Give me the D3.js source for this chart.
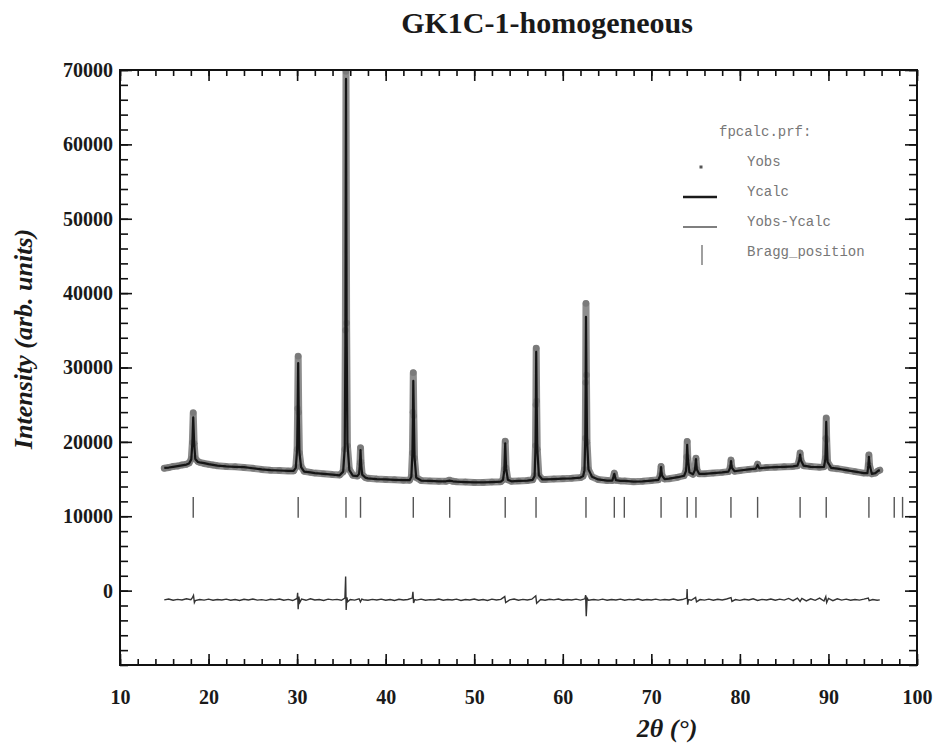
<!DOCTYPE html>
<html><head><meta charset="utf-8">
<script src="https://cdn.jsdelivr.net/npm/d3@7"></script>
<style>body{margin:0;background:#fff}svg{display:block}</style>
</head><body>
<svg id="chart" width="941" height="746"></svg>
<script>
// ---------------- data ----------------
const chartTitle = "GK1C-1-homogeneous";
const xTitleMain = "2θ (°)";
const yTitle = "Intensity (arb. units)";
const xTickLabels = [10, 20, 30, 40, 50, 60, 70, 80, 90, 100];
const yTickLabels = [0, 10000, 20000, 30000, 40000, 50000, 60000, 70000];
const legendTitle = "fpcalc.prf:";
const legendLabels = ["Yobs", "Ycalc", "Yobs-Ycalc", "Bragg_position"];

// Bragg reflection positions (2θ, degrees)
const braggPositions = [18.27, 30.12, 35.52, 37.16, 43.12, 47.23, 53.5, 56.98, 62.62, 65.82,
  66.95, 71.1, 74.05, 75.04, 78.99, 82.0, 86.8, 89.75, 94.57, 97.43, 98.37];

// observed / calculated profile: [2θ, Yobs, Ycalc]
const pattern = [
  [15.0,16450,16500],[15.5,16550,16550],[16.0,16700,16650],[16.5,16750,16750],[17.0,16900,16850],[17.5,17000,16950],[17.8,17150,17100],
  [18.05,17700,17650],[18.17,19900,19800],[18.27,23900,23300],[18.37,19800,19900],[18.5,17800,17700],
  [18.8,17350,17300],[19.0,17250,17250],[19.5,17100,17150],[20.0,17000,17000],[20.5,16900,16900],[21.0,16800,16800],[22.0,16700,16700],
  [23.0,16650,16650],[24.0,16550,16600],[25.0,16450,16450],[26.0,16300,16300],[27.0,16200,16200],[28.0,16150,16150],[29.0,16100,16100],[29.6,16100,16100],
  [29.85,16600,16500],[30.0,19000,19000],[30.06,24500,24000],[30.12,31500,30600],[30.18,24000,24300],[30.26,18500,18600],[30.45,16700,16600],
  [30.8,16050,16000],[31.5,15900,15900],[32.0,15800,15800],[33.0,15700,15700],[34.0,15600,15600],[34.8,15550,15500],
  [35.2,16000,16000],[35.38,19000,19200],[35.45,35000,33000],[35.52,69800,68800],[35.59,36000,35500],[35.68,19500,19800],[35.9,16300,16200],
  [36.3,15500,15450],[36.8,15400,15400],
  [37.0,15800,15700],[37.1,17200,17100],[37.16,19200,18900],[37.22,17300,17200],[37.35,15600,15600],
  [37.7,15200,15200],[38.0,15100,15100],[39.0,15000,15000],[40.0,14950,14950],[41.0,14900,14900],[42.0,14850,14850],[42.7,14850,14850],
  [42.9,15300,15300],[43.02,18500,18400],[43.08,24000,23200],[43.12,29300,28200],[43.18,23500,23700],[43.26,17800,17900],[43.45,15200,15200],
  [44.0,14800,14800],[45.0,14750,14750],[46.0,14700,14700],[46.8,14700,14700],[47.2,14850,14800],[47.6,14700,14700],[48.0,14650,14650],
  [49.0,14600,14600],[50.0,14550,14550],[51.0,14550,14550],[52.0,14600,14600],[53.0,14650,14650],[53.25,14900,14900],
  [53.4,16300,16200],[53.5,20100,19800],[53.6,16500,16400],[53.8,14900,14900],
  [54.2,14700,14700],[55.0,14750,14750],[56.0,14800,14800],[56.6,14900,14900],
  [56.82,15500,15400],[56.92,19500,19300],[56.96,25000,24500],[57.0,32600,32100],[57.05,25500,25600],[57.12,19000,19100],[57.3,15500,15500],
  [57.7,14950,14950],[58.0,14950,14950],[59.0,15000,15000],[60.0,15050,15050],[61.0,15100,15100],[62.0,15200,15200],[62.3,15400,15400],
  [62.45,16300,16200],[62.54,20500,20300],[62.58,28000,27000],[62.62,38600,36800],[62.67,29000,29200],[62.74,20000,20300],[62.9,16300,16300],
  [63.3,15300,15300],[64.0,14950,14950],[65.0,14800,14800],[65.6,14800,14800],[65.82,15800,15700],[66.0,14850,14850],[66.5,14750,14750],
  [67.0,14750,14750],[68.0,14650,14650],[69.0,14700,14700],[70.0,14800,14800],[70.8,14900,14900],
  [71.0,15500,15450],[71.1,16700,16600],[71.2,15500,15500],
  [71.5,15000,15000],[72.0,15050,15050],[73.0,15250,15250],[73.7,15450,15450],
  [73.92,16200,16100],[74.0,18000,17800],[74.05,20050,19600],[74.12,17800,17900],[74.3,15900,15900],
  [74.7,15650,15650],
  [74.92,16200,16200],[75.04,17800,17700],[75.14,16300,16300],
  [75.4,15700,15700],[76.0,15700,15700],[77.0,15800,15800],[78.0,15900,15900],[78.7,16000,16000],
  [78.9,16500,16500],[79.0,17550,17400],[79.1,16500,16500],
  [79.4,16050,16050],[80.0,16150,16150],[81.0,16300,16300],[81.8,16400,16400],[82.0,17000,16900],[82.2,16450,16450],
  [83.0,16550,16550],[84.0,16600,16600],[85.0,16650,16650],[86.0,16700,16700],[86.5,16800,16800],
  [86.7,17600,17500],[86.8,18500,18300],[86.9,17500,17500],
  [87.2,16800,16800],[88.0,16700,16650],[89.0,16600,16600],[89.5,16650,16650],
  [89.65,17800,17700],[89.71,20500,20200],[89.75,23200,22700],[89.8,20300,20500],[89.9,17300,17300],
  [90.3,16500,16500],[91.0,16400,16400],[92.0,16200,16200],[93.0,16000,16000],[94.0,15800,15800],[94.4,15800,15800],
  [94.5,16900,16800],[94.57,18250,18000],[94.65,16800,16900],
  [94.9,15700,15700],[95.3,15800,15800],[95.6,16100,16100],[95.8,16200,16200]
];

// difference curve Yobs-Ycalc (offset): [2θ, value]
const difference = [
  [15.0,-1250],[15.5,-1120],[16.0,-1300],[16.5,-1180],[17.0,-1260],[17.5,-1100],[18.0,-1220],[18.2,-900],[18.3,-650],[18.4,-1600],[18.5,-1350],
  [19.0,-1200],[19.5,-1280],[20.0,-1150],[20.5,-1300],[21.0,-1190],[21.5,-1260],[22.0,-1140],[22.5,-1290],[23.0,-1200],[23.5,-1320],
  [24.0,-1160],[24.5,-1250],[25.0,-1130],[25.5,-1280],[26.0,-1210],[26.5,-1310],[27.0,-1170],[27.5,-1240],[28.0,-1120],[28.5,-1290],
  [29.0,-1180],[29.5,-1330],[30.0,-1050],[30.06,-300],[30.12,-2500],[30.2,-800],[30.3,-1600],[30.5,-1150],[31.0,-1300],[31.5,-1100],
  [32.0,-1260],[32.5,-1200],[33.0,-1320],[33.5,-1150],[34.0,-1240],[34.5,-1180],[35.0,-1300],[35.4,-1000],[35.48,1900],[35.54,-2600],
  [35.62,-900],[35.72,-1500],[36.0,-1200],[36.5,-1280],[37.0,-1100],[37.15,-1500],[37.3,-1150],[37.5,-1230],[38.0,-1300],[38.5,-1180],
  [39.0,-1250],[39.5,-1140],[40.0,-1290],[40.5,-1200],[41.0,-1320],[41.5,-1170],[42.0,-1250],[42.5,-1190],[43.0,-1000],[43.08,-150],
  [43.15,-1650],[43.3,-1200],[43.5,-1280],[44.0,-1150],[44.5,-1300],[45.0,-1210],[45.5,-1260],[46.0,-1130],[46.5,-1300],[47.0,-1200],
  [47.5,-1260],[48.0,-1150],[48.5,-1320],[49.0,-1190],[49.5,-1250],[50.0,-1120],[50.5,-1290],[51.0,-1200],[51.5,-1330],[52.0,-1150],
  [52.5,-1260],[53.0,-1180],[53.45,-800],[53.55,-1600],[54.0,-1250],[54.5,-1120],[55.0,-1300],[55.5,-1180],[56.0,-1260],[56.5,-1150],
  [56.95,-700],[57.05,-1700],[57.5,-1200],[58.0,-1290],[58.5,-1170],[59.0,-1240],[59.5,-1130],[60.0,-1300],[60.5,-1190],[61.0,-1260],
  [61.5,-1150],[62.0,-1280],[62.5,-1100],[62.58,-600],[62.65,-3450],[62.75,-1000],[62.9,-1300],[63.5,-1200],[64.0,-1270],[64.5,-1150],
  [65.0,-1300],[65.5,-1200],[66.0,-1260],[66.5,-1140],[67.0,-1290],[67.5,-1180],[68.0,-1250],[68.5,-1130],[69.0,-1300],[69.5,-1200],
  [70.0,-1260],[70.5,-1150],[71.0,-1280],[71.5,-1190],[72.0,-1250],[72.5,-1120],[73.0,-1300],[73.5,-1200],[74.0,-1000],[74.04,200],
  [74.1,-1900],[74.2,-1200],[74.5,-1300],[75.0,-900],[75.1,-1500],[75.5,-1200],[76.0,-1280],[76.5,-1150],[77.0,-1300],[77.5,-1170],
  [78.0,-1260],[78.5,-1130],[79.0,-950],[79.1,-1450],[79.5,-1200],[80.0,-1310],[80.5,-1160],[81.0,-1250],[81.5,-1100],[82.0,-1320],
  [82.5,-1180],[83.0,-1260],[83.5,-1120],[84.0,-1300],[84.5,-1150],[85.0,-1270],[85.5,-1050],[86.0,-1350],[86.5,-1000],[86.8,-1450],
  [87.0,-1050],[87.5,-1380],[88.0,-1100],[88.5,-1300],[89.0,-1000],[89.5,-1400],[89.7,-800],[89.8,-1600],[90.0,-1050],[90.5,-1350],
  [91.0,-1100],[91.5,-1280],[92.0,-1150],[92.5,-1300],[93.0,-1200],[93.5,-1280],[94.0,-1150],[94.5,-1000],[94.6,-1350],[95.0,-1200],
  [95.5,-1300],[95.8,-1250]
];

// ---------------- layout ----------------
const frame = {left: 120, right: 917, top: 70, bottom: 665};
const xDomain = [10, 100], yDomain = [-10000, 70000];
const braggSpan = [9800, 12600];

const svg = d3.select("#chart");
const x = d3.scaleLinear().domain(xDomain).range([frame.left, frame.right]);
const y = d3.scaleLinear().domain(yDomain).range([frame.bottom, frame.top]);
const serif = "'Liberation Serif','Times New Roman',serif";
const mono = "'Liberation Mono','Courier New',monospace";

svg.append("rect").attr("width", 941).attr("height", 746).attr("fill", "#fff");

svg.append("defs").append("clipPath").attr("id", "plotclip")
  .append("rect").attr("x", frame.left).attr("y", frame.top - 1)
  .attr("width", frame.right - frame.left).attr("height", frame.bottom - frame.top + 1);

const plot = svg.append("g").attr("clip-path", "url(#plotclip)");

// Yobs: gray band of points
const obsLine = d3.line().x(d => x(d[0])).y(d => y(d[1]));
plot.append("path").datum(pattern).attr("d", obsLine)
  .attr("fill", "none").attr("stroke", "#8d8d8d").attr("stroke-width", 7)
  .attr("stroke-linejoin", "round").attr("stroke-linecap", "round");
plot.append("g").selectAll("circle").data(pattern).join("circle")
  .attr("cx", d => x(d[0])).attr("cy", d => y(d[1])).attr("r", 3.2).attr("fill", "#7a7a7a");

// Ycalc
const calcLine = d3.line().x(d => x(d[0])).y(d => y(d[2]));
plot.append("path").datum(pattern).attr("d", calcLine)
  .attr("fill", "none").attr("stroke", "#151515").attr("stroke-width", 2.2).attr("stroke-linejoin", "round");

// Bragg positions
plot.append("g").selectAll("line").data(braggPositions).join("line")
  .attr("x1", d => x(d)).attr("x2", d => x(d))
  .attr("y1", y(braggSpan[1])).attr("y2", y(braggSpan[0]))
  .attr("stroke", "#555").attr("stroke-width", 1.4);

// difference
const diffLine = d3.line().x(d => x(d[0])).y(d => y(d[1]));
plot.append("path").datum(difference).attr("d", diffLine)
  .attr("fill", "none").attr("stroke", "#333").attr("stroke-width", 1.4);

// ---------------- axes ----------------
const xMinor = d3.range(10, 101, 2);
const yMinor = d3.range(-10000, 70001, 2000);

function styleAxis(g) {
  g.select(".domain").remove();
  g.selectAll(".tick line").attr("stroke", "#111").attr("stroke-width", 1.6);
  g.selectAll("text").attr("font-family", serif).attr("font-weight", "bold")
    .attr("font-size", 20).attr("fill", "#1a1a1a");
}

// bottom
svg.append("g").attr("transform", `translate(0,${frame.bottom})`)
  .call(d3.axisBottom(x).tickValues(xMinor).tickSizeInner(-6).tickSizeOuter(0).tickFormat(""))
  .call(styleAxis);
svg.append("g").attr("transform", `translate(0,${frame.bottom})`)
  .call(d3.axisBottom(x).tickValues(xTickLabels).tickSizeInner(-11).tickSizeOuter(0).tickPadding(25).tickFormat(d3.format("d")))
  .call(styleAxis);
// top
svg.append("g").attr("transform", `translate(0,${frame.top})`)
  .call(d3.axisTop(x).tickValues(xMinor).tickSizeInner(-6).tickSizeOuter(0).tickFormat(""))
  .call(styleAxis);
svg.append("g").attr("transform", `translate(0,${frame.top})`)
  .call(d3.axisTop(x).tickValues(xTickLabels).tickSizeInner(-11).tickSizeOuter(0).tickFormat(""))
  .call(styleAxis);
// left
svg.append("g").attr("transform", `translate(${frame.left},0)`)
  .call(d3.axisLeft(y).tickValues(yMinor).tickSizeInner(-8).tickSizeOuter(0).tickFormat(""))
  .call(styleAxis);
svg.append("g").attr("transform", `translate(${frame.left},0)`)
  .call(d3.axisLeft(y).tickValues(yTickLabels).tickSizeInner(-12).tickSizeOuter(0).tickPadding(7).tickFormat(d3.format("d")))
  .call(styleAxis);
// right
svg.append("g").attr("transform", `translate(${frame.right},0)`)
  .call(d3.axisRight(y).tickValues(yMinor).tickSizeInner(-8).tickSizeOuter(0).tickFormat(""))
  .call(styleAxis);
svg.append("g").attr("transform", `translate(${frame.right},0)`)
  .call(d3.axisRight(y).tickValues(yTickLabels).tickSizeInner(-12).tickSizeOuter(0).tickFormat(""))
  .call(styleAxis);

// frame
svg.append("rect").attr("x", frame.left).attr("y", frame.top)
  .attr("width", frame.right - frame.left).attr("height", frame.bottom - frame.top)
  .attr("fill", "none").attr("stroke", "#111").attr("stroke-width", 2);

// ---------------- titles ----------------
svg.append("text").attr("x", 547).attr("y", 33).attr("text-anchor", "middle")
  .attr("font-family", serif).attr("font-weight", "bold").attr("font-size", 30)
  .attr("fill", "#1a1a1a").text(chartTitle);

svg.append("text").attr("transform", "translate(32,339) rotate(-90)").attr("text-anchor", "middle")
  .attr("font-family", serif).attr("font-weight", "bold").attr("font-style", "italic")
  .attr("font-size", 26).attr("fill", "#1a1a1a").text(yTitle);

svg.append("text").attr("x", 667).attr("y", 737).attr("text-anchor", "middle")
  .attr("font-family", serif).attr("font-weight", "bold").attr("font-style", "italic")
  .attr("font-size", 26).attr("fill", "#1a1a1a").text(xTitleMain);

// ---------------- legend ----------------
const lg = svg.append("g").attr("font-family", mono).attr("font-size", 14).attr("fill", "#777");
lg.append("text").attr("x", 719).attr("y", 136).text(legendTitle);
lg.selectAll("text.item").data(legendLabels).join("text").attr("class", "item")
  .attr("x", 747).attr("y", (d, i) => 166 + i * 30).text(d => d);
lg.append("rect").attr("x", 699.5).attr("y", 165.5).attr("width", 3).attr("height", 3).attr("fill", "#555");
lg.append("line").attr("x1", 683).attr("x2", 717).attr("y1", 197).attr("y2", 197)
  .attr("stroke", "#1a1a1a").attr("stroke-width", 2.6);
lg.append("line").attr("x1", 683).attr("x2", 717).attr("y1", 227).attr("y2", 227)
  .attr("stroke", "#555").attr("stroke-width", 1.6);
lg.append("line").attr("x1", 702).attr("x2", 702).attr("y1", 245).attr("y2", 265)
  .attr("stroke", "#777").attr("stroke-width", 1.4);
</script>
</body></html>
